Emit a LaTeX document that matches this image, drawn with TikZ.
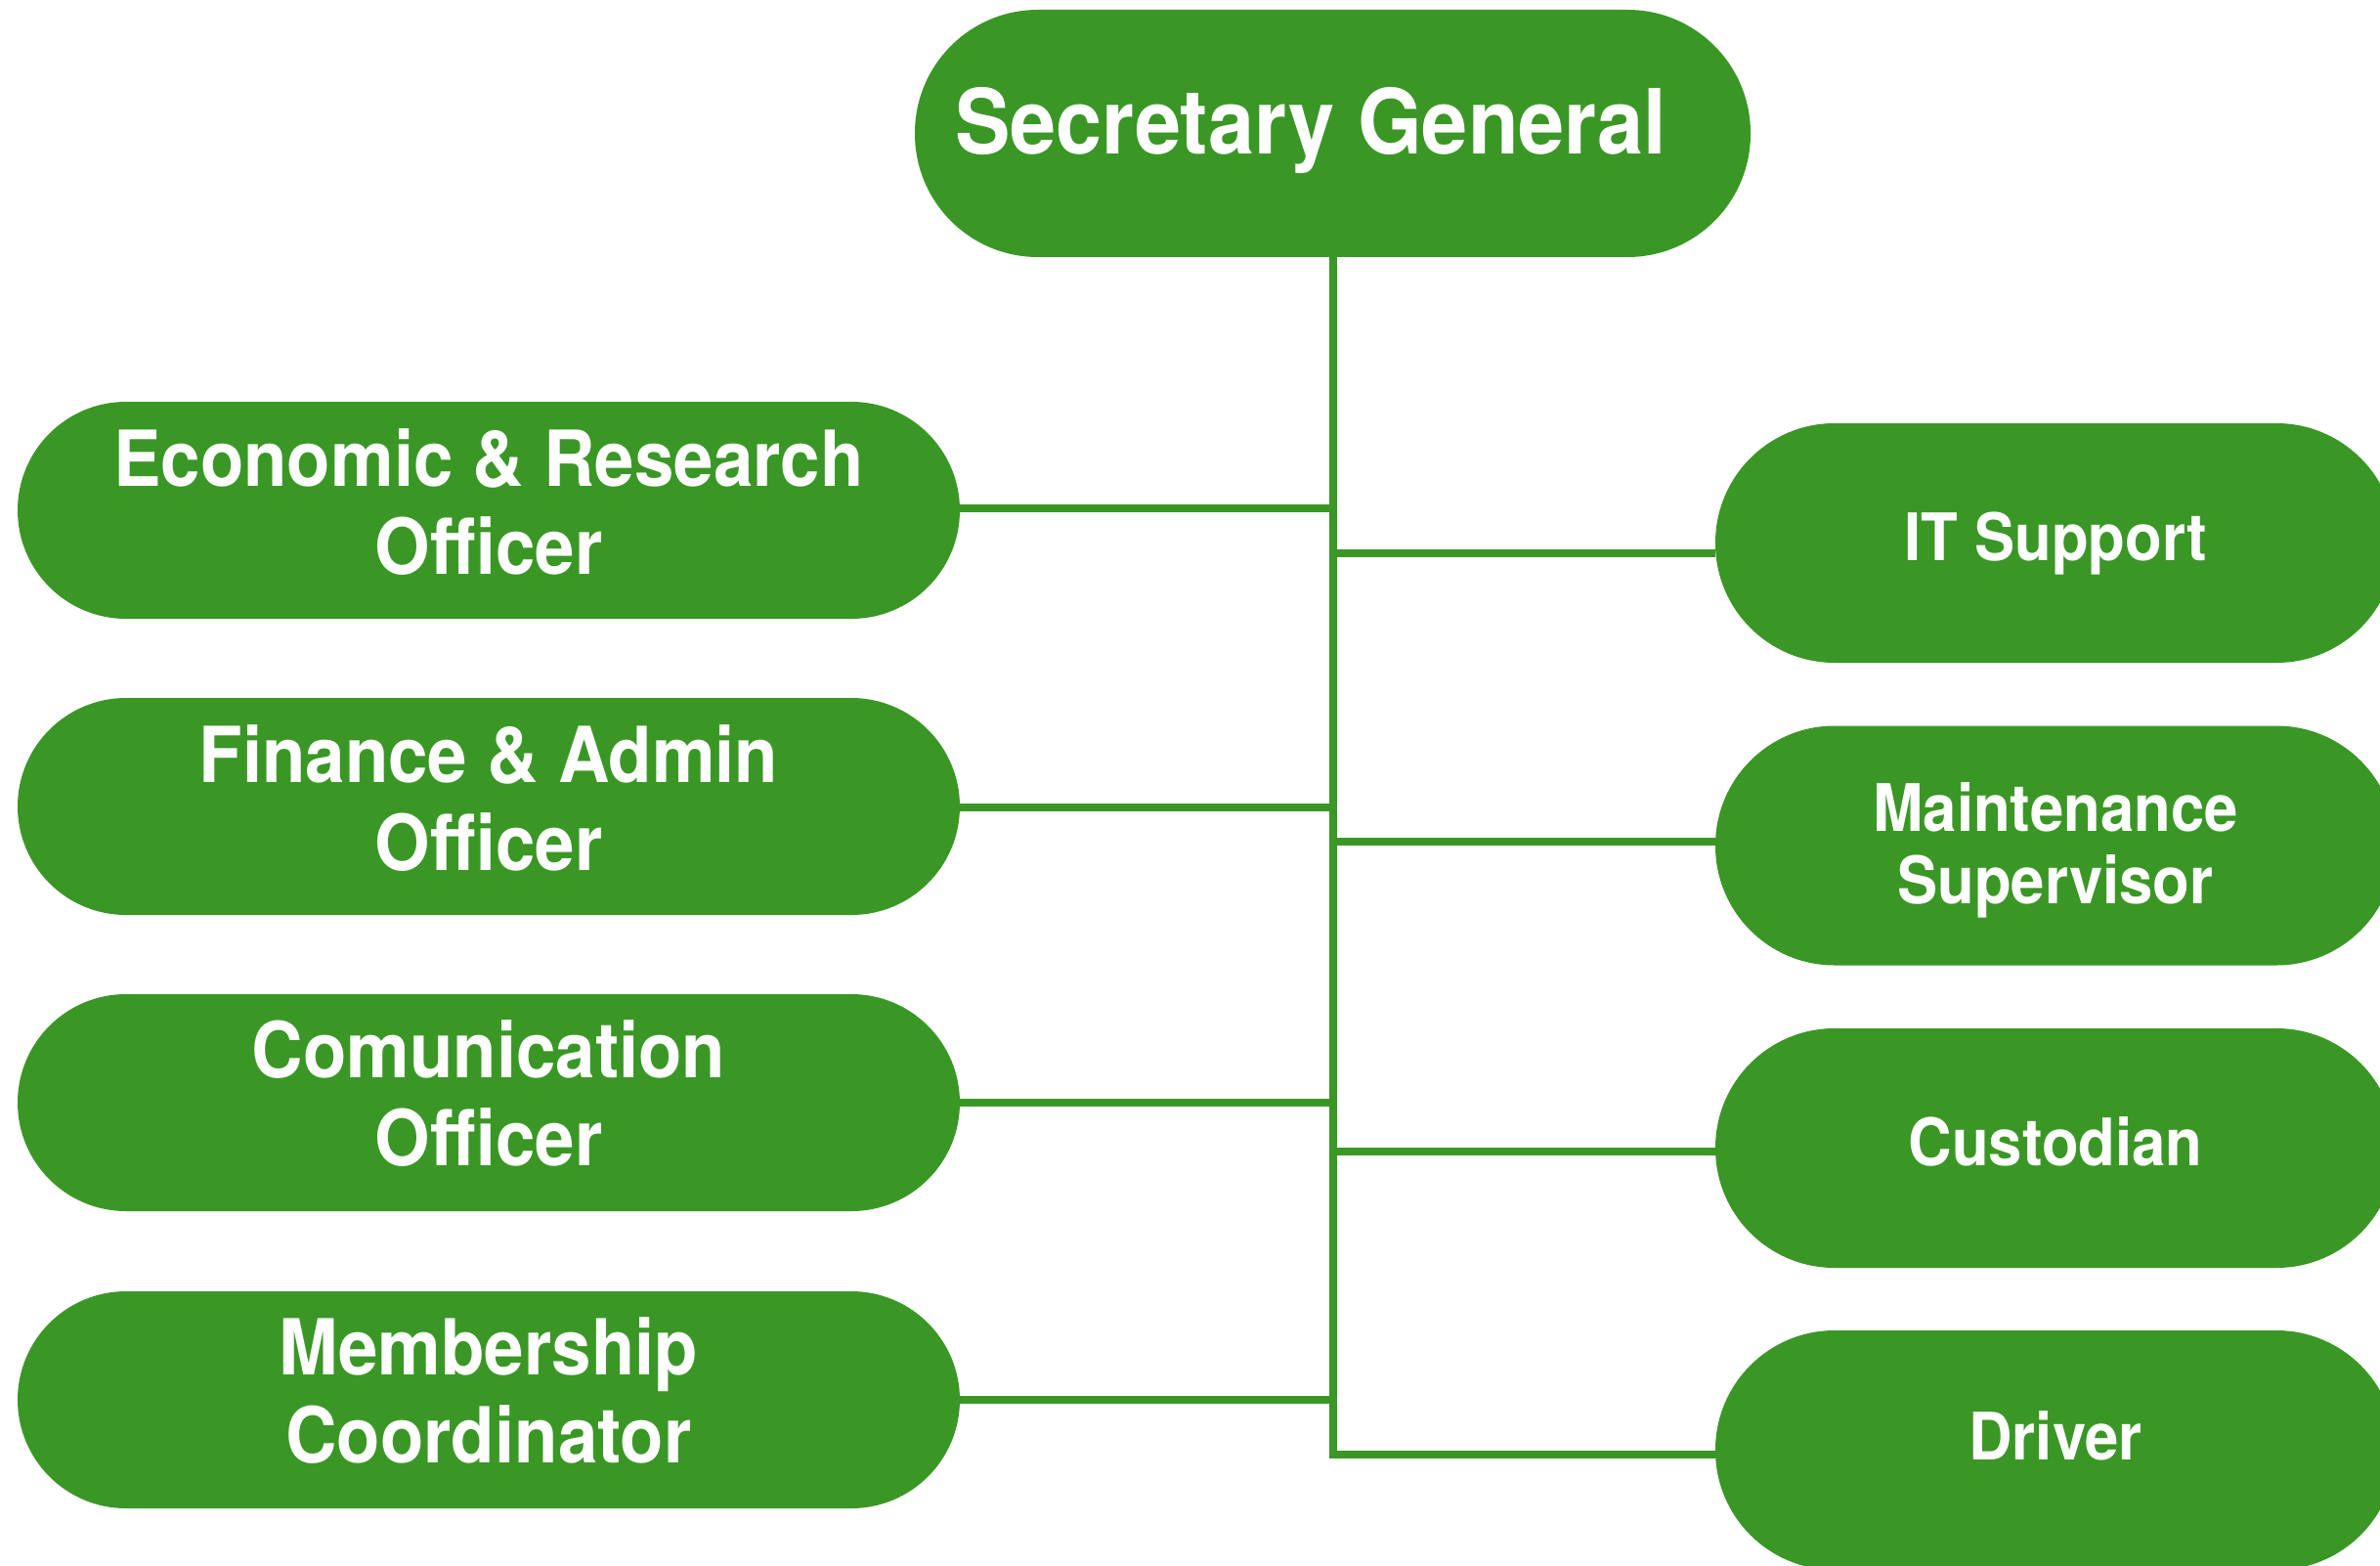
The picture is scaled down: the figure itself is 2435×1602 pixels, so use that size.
\documentclass[tikz,border=0pt]{standalone}
\usepackage{fontspec}
\setmainfont{TeX Gyre Heros}
\definecolor{sg}{RGB}{58,151,38}
\begin{document}
\begin{tikzpicture}[x=1pt,y=-1pt,
  box/.style={fill=sg, draw=none, inner sep=0pt},
  sgbox/.style={box, minimum width=855pt, minimum height=253pt, rounded corners=126pt},
  lbox/.style={box, minimum width=964pt, minimum height=222pt, rounded corners=111pt},
  rbox/.style={box, minimum width=696pt, minimum height=245pt, rounded corners=122pt},
  lab/.style={text=white, align=center, anchor=base, inner sep=0pt, xscale=0.92, transform shape},
  sgtxt/.style={lab, font=\fontsize{92}{100}\selectfont\bfseries},
  ltxt/.style={lab, font=\fontsize{79}{90}\selectfont\bfseries},
  rtxt/.style={lab, font=\fontsize{67}{74}\selectfont\bfseries},
  conn/.style={draw=sg, line width=8pt, line join=miter}]
\useasboundingbox (0,0) rectangle (2435,1602);
\clip (0,0) rectangle (2435,1602);
% boxes
\node[sgbox] (sg) at (1363.5,136.5) {};
\node[lbox] (econ) at (500,522) {};
\node[lbox] (fin)  at (500,825) {};
\node[lbox] (com)  at (500,1128) {};
\node[lbox] (mem)  at (500,1432) {};
\node[rbox] (it)   at (2103,555.5) {};
\node[rbox] (mnt)  at (2103,865) {};
\node[rbox] (cus)  at (2103,1174.5) {};
\node[rbox] (drv)  at (2103,1483.5) {};
% texts (anchor = baseline of the last line)
\node[sgtxt] (sg-t) at ([xshift=-22.5pt,yshift=-21.5pt]sg.center) {Secretary General};
\node[ltxt] (econ-t) at ([yshift=-65pt]econ.center) {Economic \& Research\\Officer};
\node[ltxt] (fin-t)  at ([yshift=-65pt]fin.center) {Finance \& Admin\\Officer};
\node[ltxt] (com-t)  at ([yshift=-64pt]com.center) {Comunication\\Officer};
\node[ltxt] (mem-t)  at ([yshift=-64pt]mem.center) {Membership\\Coordinator};
\node[rtxt] (it-t)   at ([yshift=-17.5pt]it.center) {IT Support};
\node[rtxt] (mnt-t)  at ([yshift=-59pt]mnt.center) {Maintenance\\Supervisor};
\node[rtxt] (cus-t)  at ([yshift=-17.5pt]cus.center) {Custodian};
\node[rtxt] (drv-t)  at ([yshift=-9.5pt]drv.center) {Driver};
% connectors
\coordinate (tr) at (1364,0);
\draw[conn] (sg.south) |- ([yshift=-4.5pt]drv.west);
\draw[conn] ([yshift=2pt]econ.east) -- ([yshift=2pt]econ.east -| tr);
\draw[conn] ([yshift=-1pt]fin.east) -- ([yshift=-1pt]fin.east -| tr);
\draw[conn] (com.east) -- (com.east -| tr);
\draw[conn] (mem.east) -- (mem.east -| tr);
\draw[conn] ([yshift=-10.5pt]it.west) -- ([yshift=-10.5pt]it.west -| tr);
\draw[conn] ([yshift=4pt]mnt.west) -- ([yshift=4pt]mnt.west -| tr);
\draw[conn] ([yshift=-3.5pt]cus.west) -- ([yshift=-3.5pt]cus.west -| tr);
\end{tikzpicture}
\end{document}
